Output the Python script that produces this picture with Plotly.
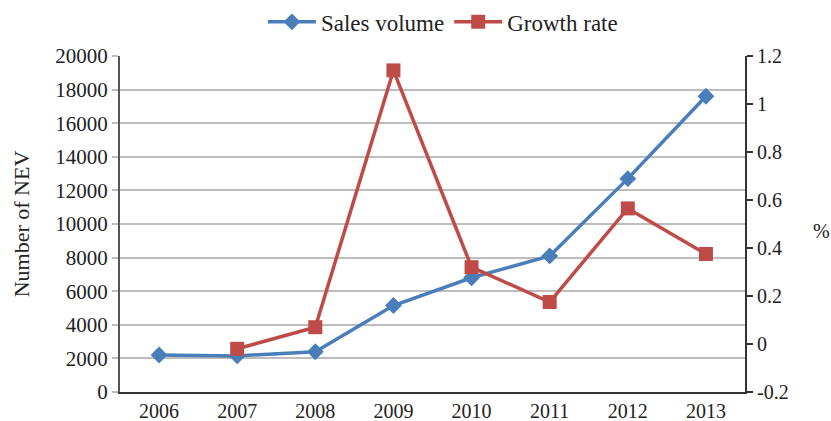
import plotly.graph_objects as go

years = ["2006", "2007", "2008", "2009", "2010", "2011", "2012", "2013"]
sales_volume = [2200, 2150, 2400, 5150, 6800, 8100, 12700, 17600]
growth_years = ["2007", "2008", "2009", "2010", "2011", "2012", "2013"]
growth_rate = [-0.02, 0.07, 1.14, 0.32, 0.175, 0.565, 0.375]
right_ticks = [-0.2, 0, 0.2, 0.4, 0.6, 0.8, 1, 1.2]
right_tick_text = ["-0.2", "0", "0.2", "0.4", "0.6", "0.8", "1", "1.2"]

FONT = "Liberation Serif"
BLUE = "#4A7EBB"
RED = "#BE4B48"

fig = go.Figure()
fig.add_trace(go.Scatter(
    x=years, y=sales_volume, name="Sales volume", mode="lines+markers",
    line=dict(color=BLUE, width=3.5),
    marker=dict(symbol="diamond", size=13, color=BLUE),
))
fig.add_trace(go.Scatter(
    x=growth_years, y=growth_rate, name="Growth rate", mode="lines+markers",
    line=dict(color=RED, width=3.5),
    marker=dict(symbol="square", size=14, color=RED),
    yaxis="y2",
))

fig.update_layout(
    width=831, height=421,
    margin=dict(l=120, r=86, t=56, b=29, autoexpand=False),
    paper_bgcolor="white", plot_bgcolor="white",
    font=dict(family=FONT, size=20, color="#222222"),
    showlegend=True,
    legend=dict(orientation="h", xref="container", x=0.533, xanchor="center",
                yref="container", y=0.948, yanchor="middle",
                font=dict(size=23), itemwidth=48, tracegroupgap=0,
                bgcolor="rgba(0,0,0,0)"),
    xaxis=dict(
        type="category", range=[-0.5, 7.5], showgrid=False,
        showline=True, linecolor="#333333", linewidth=2,
        ticks="", tickfont=dict(size=20), mirror=False, automargin=False,
    ),
    yaxis=dict(
        range=[0, 20000], dtick=2000, tick0=0, tickformat="d",
        showgrid=True, gridcolor="#BDBDBD", gridwidth=2,
        showline=True, linecolor="#555555", linewidth=2,
        ticks="outside", ticklen=6, tickcolor="#BDBDBD", tickwidth=2,
        zeroline=False, tickfont=dict(size=21), automargin=False,
        title=dict(text="Number of NEV", font=dict(size=22), standoff=20),
    ),
    yaxis2=dict(
        range=[-0.2, 1.2], overlaying="y", side="right",
        tickvals=right_ticks, ticktext=right_tick_text,
        showgrid=False, zeroline=False,
        showline=True, linecolor="#333333", linewidth=2,
        ticks="outside", ticklen=6, tickcolor="#333333", tickwidth=2,
        tickfont=dict(size=20), automargin=False,
    ),
)
fig.add_annotation(text="%", xref="paper", yref="paper", x=1.123, y=0.48,
                   showarrow=False, font=dict(family=FONT, size=20), xanchor="center")

fig.write_html("out.html")
